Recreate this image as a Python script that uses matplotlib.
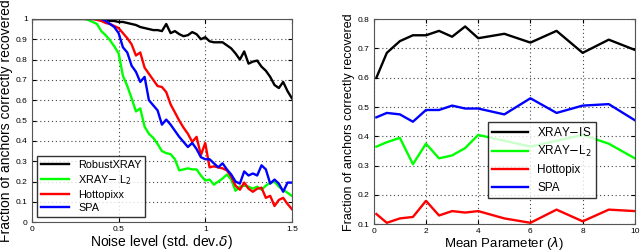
import numpy as np
import matplotlib
matplotlib.use("Agg")
import matplotlib.pyplot as plt

plt.rcParams['font.family'] = ['Liberation Sans', 'DejaVu Sans']

# left panel: noise level vs fraction recovered
noise = np.round(np.arange(0, 1.5001, 0.025), 3)

robust_xray = [1.0] * 17 + [
    1.0, 0.99, 0.99, 0.985, 0.985, 0.98, 0.975, 0.97, 0.96, 0.955,
    0.95, 0.945, 0.945, 0.94, 0.975, 0.93, 0.94, 0.925, 0.915, 0.92,
    0.935, 0.925, 0.9, 0.91, 0.89, 0.885, 0.885, 0.885, 0.87, 0.855,
    0.83, 0.8, 0.84, 0.78, 0.79, 0.795, 0.765, 0.745, 0.715, 0.675,
    0.66, 0.69, 0.645, 0.61]

xray_l2 = [1.0] * 12 + [
    1.0, 0.995, 0.985, 0.975, 0.94, 0.92, 0.895, 0.865, 0.83, 0.72,
    0.67, 0.61, 0.545, 0.56, 0.47, 0.435, 0.415, 0.385, 0.35, 0.34,
    0.335, 0.31, 0.255, 0.26, 0.265, 0.26, 0.26, 0.23, 0.205, 0.21,
    0.185, 0.2, 0.215, 0.235, 0.21, 0.155, 0.175, 0.18, 0.175, 0.165,
    0.175, 0.16, 0.18, 0.195, 0.2, 0.175, 0.16, 0.145, 0.13]

hottopixx = [1.0] * 15 + [
    0.995, 0.99, 0.98, 0.975, 0.965, 0.955, 0.93, 0.905, 0.875, 0.82,
    0.835, 0.76, 0.73, 0.7, 0.67, 0.665, 0.64, 0.58, 0.54, 0.5,
    0.465, 0.435, 0.395, 0.42, 0.33, 0.39, 0.27, 0.275, 0.27, 0.265,
    0.255, 0.225, 0.18, 0.16, 0.195, 0.165, 0.15, 0.165, 0.17, 0.12,
    0.13, 0.08, 0.11, 0.12, 0.09, 0.065]

spa = [1.0] * 17 + [
    0.99, 0.975, 0.96, 0.93, 0.86, 0.835, 0.77, 0.74, 0.69, 0.715,
    0.6, 0.575, 0.55, 0.48, 0.505, 0.48, 0.45, 0.42, 0.395, 0.37,
    0.39, 0.36, 0.32, 0.31, 0.31, 0.29, 0.27, 0.29, 0.26, 0.235,
    0.2, 0.19, 0.25, 0.23, 0.24, 0.23, 0.28, 0.26, 0.19, 0.21,
    0.19, 0.15, 0.195, 0.195]

# right panel: mean parameter vs fraction recovered
lam = [0.1, 0.5, 1, 1.5, 2, 2.5, 3, 3.5, 4, 5, 6, 7, 8, 9, 10]
xray_is = [0.6, 0.685, 0.725, 0.745, 0.745, 0.76, 0.74, 0.775, 0.735, 0.75, 0.72, 0.76, 0.685, 0.73, 0.695]
xray_l2_r = [0.365, 0.38, 0.395, 0.305, 0.375, 0.325, 0.335, 0.36, 0.405, 0.385, 0.365, 0.385, 0.405, 0.375, 0.325]
hottopix_r = [0.135, 0.105, 0.12, 0.125, 0.18, 0.13, 0.145, 0.14, 0.145, 0.12, 0.105, 0.15, 0.11, 0.15, 0.145]
spa_r = [0.465, 0.48, 0.475, 0.45, 0.49, 0.49, 0.505, 0.495, 0.495, 0.475, 0.53, 0.48, 0.505, 0.51, 0.455]

fig = plt.figure(figsize=(6.4, 2.52), dpi=100)
ax1 = fig.add_axes([0.05, 0.118, 0.406, 0.807])
ax2 = fig.add_axes([0.584, 0.11, 0.408, 0.814])

lw = 1.7
ax1.plot(noise, robust_xray, color='black', lw=lw, label='RobustXRAY')
ax1.plot(noise, xray_l2, color='#00ff00', lw=lw, label='XRAY$-$ L$_2$')
ax1.plot(noise, hottopixx, color='red', lw=lw, label='Hottopixx')
ax1.plot(noise, spa, color='blue', lw=lw, label='SPA')
ax1.set_xlim(0, 1.5)
ax1.set_ylim(0, 1)
ax1.set_xticks([0, 0.5, 1, 1.5])
ax1.set_xticklabels(['0', '0.5', '1', '1.5'])
ax1.set_yticks(np.round(np.arange(0, 1.01, 0.1), 1))
ax1.set_yticklabels(['0', '0.1', '0.2', '0.3', '0.4', '0.5', '0.6', '0.7', '0.8', '0.9', '1'])
ax1.set_xlabel('Noise level (std. dev.$\\delta$)', fontsize=10, labelpad=0)
ax1.set_ylabel('Fraction of anchors correctly recovered', fontsize=10, labelpad=2)
ax1.legend(loc='lower left', fontsize=7.8, frameon=True, fancybox=False,
           edgecolor='black', handlelength=2.6, borderaxespad=0.5,
           labelspacing=0.3, borderpad=0.35)

ax2.plot(lam, xray_is, color='black', lw=lw, label='XRAY$-$IS')
ax2.plot(lam, xray_l2_r, color='#00ff00', lw=lw, label='XRAY$-$L$_2$')
ax2.plot(lam, hottopix_r, color='red', lw=lw, label='Hottopix')
ax2.plot(lam, spa_r, color='blue', lw=lw, label='SPA')
ax2.set_xlim(0, 10)
ax2.set_ylim(0.1, 0.8)
ax2.set_xticks([0, 2, 4, 6, 8, 10])
ax2.set_yticks([0.1, 0.2, 0.3, 0.4, 0.5, 0.6, 0.7, 0.8])
ax2.set_xlabel('Mean Parameter ($\\lambda$)', fontsize=9.5, labelpad=0)
ax2.set_ylabel('Fraction of anchors correctly recovered', fontsize=9, labelpad=2)
ax2.legend(loc='lower right', bbox_to_anchor=(0.875, 0.1), fontsize=8.5,
           frameon=True, fancybox=False, edgecolor='black', handlelength=3.0,
           labelspacing=0.45, borderpad=0.35)

for ax in (ax1, ax2):
    ax.grid(True, color='#444444', linestyle=(0, (1, 2.5)), lw=0.8)
    ax.tick_params(labelsize=6, direction='in', length=3, pad=3,
                   top=True, right=True)
    for s in ax.spines.values():
        s.set_linewidth(0.8)
        s.set_color('#555555')

fig.savefig('out.png', dpi=100)
